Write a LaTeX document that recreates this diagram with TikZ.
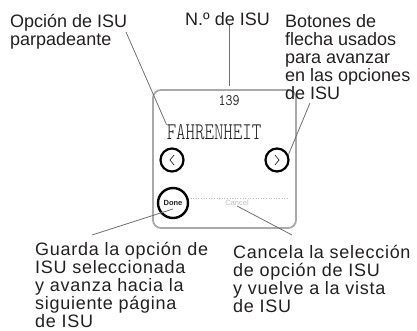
\documentclass[tikz,border=0pt]{standalone}
\usepackage{fontspec}
\setmainfont{Liberation Sans}
\usetikzlibrary{calc}
\definecolor{Ink}{HTML}{231F20}
\definecolor{Frame}{HTML}{A7A9AC}
\definecolor{Leader}{HTML}{6D6E71}
\definecolor{Faint}{HTML}{BCBEC0}

\begin{document}
\begin{tikzpicture}[
    x=1pt,y=-1pt,
    lbl/.style={inner sep=0pt, anchor=base west, align=left, text=Ink,
      font=\fontsize{18}{18}\selectfont},
    widelbl/.style={lbl,
      font=\fontsize{18}{18}\selectfont\addfontfeatures{LetterSpace=4}},
    screen/.style={draw=Frame, line width=1.8pt, rounded corners=8pt,
      minimum width=143pt, minimum height=138pt, inner sep=0pt},
    lcd/.style={inner sep=0pt, text=Ink,
      font=\ttfamily\fontseries{l}\fontsize{24}{24}\selectfont},
    btn/.style={circle, draw=black, line width=2.2pt, minimum size=23pt,
      inner sep=0pt},
    chev/.style={draw=Ink, line width=0.7pt},
    divider/.style={draw=Faint, line width=0.6pt, dotted},
    leader/.style={draw=Leader, line width=0.8pt}
  ]
    \useasboundingbox (0,0) rectangle (417,330);

    \node[screen] (screen) at (224.5,159) {};

    \node[lcd, font=\ttfamily\fontsize{16}{16}\selectfont]
      (isunum) at (229,101) {\scalebox{0.85}[1]{139}};
    \node[lcd] (option) at (214,132.5) {\scalebox{0.75}[1]{FAHRENHEIT}};

    \node[btn] (prev) at (172,160) {};
    \node[btn] (next) at (277,160) {};
    \draw[chev] ([shift={(2,-5)}]prev.center) -- ([shift={(-2,0)}]prev.center)
      -- ([shift={(2,5)}]prev.center);
    \draw[chev] ([shift={(-2,-5)}]next.center) -- ([shift={(2,0)}]next.center)
      -- ([shift={(-2,5)}]next.center);

    \draw[divider] (188,198) -- (287,198);
    \node[btn, minimum size=30pt, line width=2.4pt, text=Ink,
      font=\bfseries\fontsize{7.5}{8}\selectfont] (done) at (173,203) {Done};
    \node[inner sep=0pt, text=Faint, font=\fontsize{7.5}{8}\selectfont]
      (cancel) at (237,203) {Cancel};

    \node[lbl] (lblopt) at (10,45) {Opción de ISU\\parpadeante};
    \node[lbl] (lblnum) at (185,25) {N.º de ISU};
    \node[lbl] (lblarrow) at (285,99) {Botones de\\flecha usados\\para avanzar\\en las opciones\\de ISU};
    \node[widelbl] (lbldone) at (35,327) {Guarda la opción de\\ISU seleccionada\\y avanza hacia la\\siguiente página\\de ISU};
    \node[widelbl] (lblcancel) at (233,312) {Cancela la selección\\de opción de ISU\\y vuelve a la vista\\de ISU};

    \coordinate (optend) at (126,32);
    \coordinate (arrowend) at (310,103);
    \coordinate (doneend) at (92,235);
    \coordinate (cancelend) at (292,235);

    \draw[leader] (optend) -- (option.north west);
    \draw[leader] (isunum |- lblnum.south) -- ([yshift=3pt]isunum |- screen.north);
    \draw[leader] (arrowend) -- (next.25);
    \draw[leader] (doneend) -- ($(done.center)+(0,6)$);
    \draw[leader] (cancel.south) -- (cancelend);
  \end{tikzpicture}
\end{document}
